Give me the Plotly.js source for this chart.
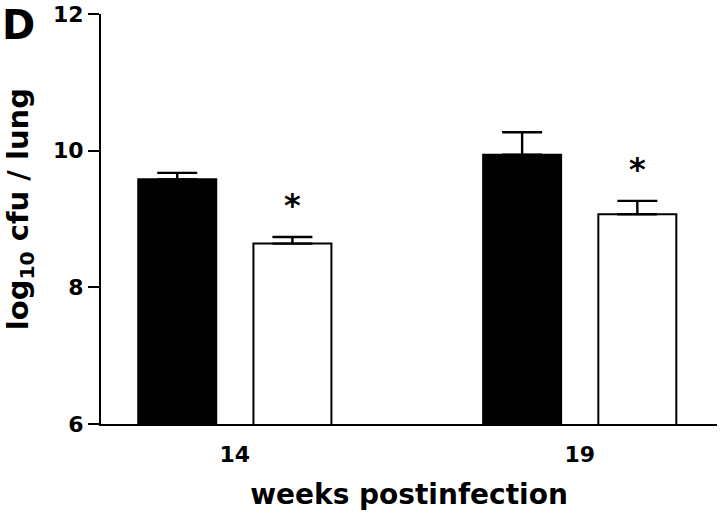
<!DOCTYPE html>
<html>
<head>
<meta charset="utf-8">
<script src="https://cdn.plot.ly/plotly-3.0.1.min.js"></script>
<style>html,body{margin:0;padding:0;background:#fff;}</style>
</head>
<body>
<div id="chart" style="width:720px;height:514px;"></div>
<script>
// Data
var weeks = ['14', '19'];
var controlMean = [9.58, 9.94];
var controlSEM = [0.095, 0.33];
var treatedMean = [8.64, 9.07];
var treatedSEM = [0.097, 0.195];
var significant = ['*', '*'];
var yTicks = [6, 8, 10, 12];

var FONT = 'DejaVu Sans, Arial, sans-serif';

var zeros = weeks.map(function () { return 0; });

var traceControl = {
  type: 'bar', x: weeks, y: controlMean, name: 'control',
  offsetgroup: 'a',
  marker: { color: '#000', line: { color: '#000', width: 2 } },
  error_y: { type: 'data', symmetric: false, array: controlSEM, arrayminus: zeros,
             color: '#000', thickness: 2.4, width: 20 },
  hoverinfo: 'skip'
};
var traceTreated = {
  type: 'bar', x: weeks, y: treatedMean, name: 'treated',
  offsetgroup: 'b',
  marker: { color: '#fff', line: { color: '#000', width: 2 } },
  error_y: { type: 'data', symmetric: false, array: treatedSEM, arrayminus: zeros,
             color: '#000', thickness: 2.4, width: 20 },
  hoverinfo: 'skip'
};
var traceStars = {
  type: 'scatter', mode: 'text', x: weeks,
  y: treatedMean.map(function (v, i) { return v + treatedSEM[i] + 0.42; }),
  text: significant, offsetgroup: 'b',
  textfont: { family: FONT, size: 32, color: '#000', weight: 'bold' },
  textposition: 'middle center',
  hoverinfo: 'skip', showlegend: false
};

var layout = {
  width: 720, height: 514,
  margin: { l: 101, r: 3, t: 14, b: 90, pad: 0 },
  paper_bgcolor: '#fff', plot_bgcolor: '#fff',
  showlegend: false,
  barmode: 'group', scattermode: 'group',
  bargap: 0.332, bargroupgap: 0.323,
  font: { family: FONT, color: '#000' },
  xaxis: {
    type: 'category', range: [-0.388, 1.398],
    showline: true, linecolor: '#000', linewidth: 2,
    ticks: '', showgrid: false, zeroline: false,
    ticklabelstandoff: 10,
    tickfont: { family: FONT, size: 22, color: '#000', weight: 'bold' },
    title: { text: 'weeks postinfection', standoff: 18,
             font: { family: FONT, size: 28, color: '#000', weight: 'bold' } }
  },
  yaxis: {
    range: [6, 12], tickvals: yTicks, ticktext: yTicks.map(String),
    showline: true, linecolor: '#000', linewidth: 2,
    ticks: 'outside', ticklen: 11, tickwidth: 2, tickcolor: '#000',
    showgrid: false, zeroline: false,
    tickfont: { family: FONT, size: 22, color: '#000', weight: 'bold' }
  },
  annotations: [
    { xref: 'paper', yref: 'paper', x: 0, y: 0.524, xshift: -81,
      xanchor: 'center', yanchor: 'middle', textangle: -90, showarrow: false,
      text: 'log<sub>10</sub> cfu / lung',
      font: { family: FONT, size: 29, color: '#000', weight: 'bold' } },
    { xref: 'paper', yref: 'paper', x: 0, y: 1, xshift: -101, yshift: 14,
      xanchor: 'left', yanchor: 'top', showarrow: false, text: 'D',
      font: { family: FONT, size: 40, color: '#000', weight: 'bold' } }
  ]
};

Plotly.newPlot('chart', [traceControl, traceTreated, traceStars], layout,
  { staticPlot: true, displayModeBar: false });
</script>
</body>
</html>
